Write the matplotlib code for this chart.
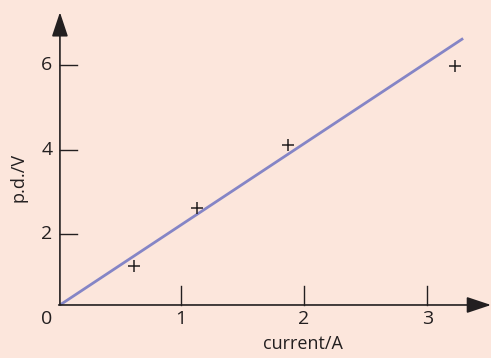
import matplotlib
matplotlib.use("Agg")
import matplotlib.pyplot as plt

# measured points (current in A, p.d. in V)
current = [0.62, 1.13, 1.87, 3.22]
pd_volts = [1.24, 2.61, 4.11, 5.98]

# best-fit line ends
line_x = [0.02, 3.29]
line_y = [0.32, 6.63]

x_ticks = [1, 2, 3]
y_ticks = [2, 4, 6]

BG = "#FCE6DC"
INK = "#231F20"
LINE = "#8585C6"
base = 0.32  # where the drawn x-axis sits
x0 = 0.02    # where the drawn y-axis sits

plt.rcParams["font.family"] = ["Open Sans", "DejaVu Sans"]

fig = plt.figure(figsize=(4.91, 3.58), dpi=100)
fig.patch.set_facecolor(BG)
ax = fig.add_axes([0, 0, 1, 1])
ax.set_facecolor(BG)
ax.set_xlim(-0.466, 3.516)
ax.set_ylim(-0.935, 7.54)
ax.axis("off")

arrow = dict(arrowstyle="-|>,head_length=1.5,head_width=0.5", lw=1.2,
             color=INK, shrinkA=0, shrinkB=0, mutation_scale=10)
ax.annotate("", xy=(x0, 7.25), xytext=(x0, base), arrowprops=arrow)
ax.annotate("", xy=(3.516, base), xytext=(x0 - 0.01, base), arrowprops=arrow)

# ticks
for t in x_ticks:
    ax.plot([t, t], [base, base + 0.45], color=INK, lw=1.0)
    ax.text(t, base - 0.13, str(t), ha="center", va="top", fontsize=14, color=INK)
for t in y_ticks:
    ax.plot([x0, x0 + 0.135], [t, t], color=INK, lw=1.0)
    ax.text(x0 - 0.06, t, str(t), ha="right", va="center", fontsize=14, color=INK)
ax.text(x0 - 0.06, base - 0.13, "0", ha="right", va="top", fontsize=14, color=INK)

ax.plot(line_x, line_y, color=LINE, lw=2.0, solid_capstyle="butt")
ax.plot(current, pd_volts, linestyle="none", marker="+", markersize=8,
        markeredgewidth=1.1, color=INK)

ax.text(1.99, -0.6, "current/A", ha="center", va="center", fontsize=13, color=INK)
ax.text(-0.32, 3.35, "p.d./V", ha="center", va="center", rotation=90,
        fontsize=13, color=INK)

fig.savefig("out.png", dpi=100, facecolor=BG)
